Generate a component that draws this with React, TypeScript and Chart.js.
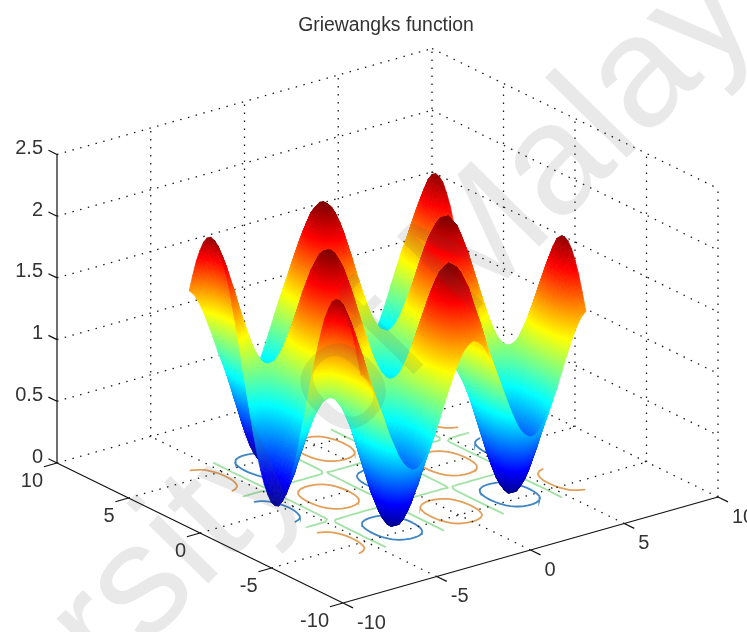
import React, { useEffect, useRef } from "react";
import { Chart, registerables } from "chart.js";

Chart.register(...registerables);

const TITLE = "Griewangks function";
const WATERMARK = "University of Malaya";

const xTicks = [-10, -5, 0, 5, 10];
const yTicks = [-10, -5, 0, 5, 10];
const zTicks = [0, 0.5, 1, 1.5, 2, 2.5];
const zTickLabels = ["0", "0.5", "1", "1.5", "2", "2.5"];
const contourLevels = [0.5, 1, 1.5];
const contourColors = ["#3f86c4", "#a2e2a6", "#e3a05a"];
const gridCoords = [
  -6, -5.75, -5.5, -5.25, -5, -4.75, -4.5, -4.25, -4, -3.75, -3.5, -3.25, -3, -2.75, -2.5, -2.25, -2, -1.75, -1.5, -1.25, -1, -0.75, -0.5, -0.25,
  0, 0.25, 0.5, 0.75, 1, 1.25, 1.5, 1.75, 2, 2.25, 2.5, 2.75, 3, 3.25, 3.5, 3.75, 4, 4.25, 4.5, 4.75, 5, 5.25, 5.5, 5.75, 6,
];

// surface heights, one quadrant (|y| rows by |x| columns, 0 to 6 in steps of 0.25); the surface is symmetric
const zQuadrant = [
  [0.0, 0.03, 0.12, 0.27, 0.46, 0.68, 0.93, 1.18, 1.42, 1.63, 1.8, 1.93, 1.99, 2.0, 1.94, 1.82, 1.66, 1.45, 1.22, 0.97, 0.72, 0.49, 0.3, 0.15, 0.05],
  [0.02, 0.05, 0.14, 0.28, 0.47, 0.69, 0.93, 1.18, 1.41, 1.62, 1.79, 1.91, 1.98, 1.98, 1.93, 1.81, 1.65, 1.44, 1.21, 0.97, 0.73, 0.5, 0.31, 0.16, 0.06],
  [0.06, 0.09, 0.18, 0.31, 0.49, 0.7, 0.93, 1.17, 1.39, 1.59, 1.75, 1.87, 1.93, 1.94, 1.88, 1.77, 1.62, 1.42, 1.2, 0.97, 0.74, 0.53, 0.34, 0.2, 0.11],
  [0.14, 0.16, 0.24, 0.37, 0.53, 0.73, 0.94, 1.15, 1.36, 1.54, 1.69, 1.8, 1.86, 1.86, 1.81, 1.71, 1.57, 1.39, 1.19, 0.97, 0.76, 0.57, 0.4, 0.27, 0.18],
  [0.24, 0.26, 0.33, 0.44, 0.59, 0.76, 0.95, 1.14, 1.32, 1.48, 1.61, 1.71, 1.76, 1.76, 1.72, 1.63, 1.5, 1.34, 1.17, 0.98, 0.79, 0.62, 0.47, 0.35, 0.28],
  [0.37, 0.39, 0.44, 0.54, 0.66, 0.8, 0.96, 1.11, 1.27, 1.4, 1.51, 1.59, 1.63, 1.63, 1.6, 1.52, 1.42, 1.29, 1.14, 0.98, 0.83, 0.68, 0.56, 0.46, 0.4],
  [0.51, 0.53, 0.57, 0.64, 0.74, 0.85, 0.97, 1.09, 1.2, 1.31, 1.39, 1.45, 1.49, 1.49, 1.46, 1.41, 1.32, 1.22, 1.11, 0.99, 0.87, 0.76, 0.66, 0.59, 0.54],
  [0.67, 0.68, 0.71, 0.76, 0.82, 0.9, 0.98, 1.06, 1.14, 1.21, 1.26, 1.3, 1.33, 1.33, 1.31, 1.27, 1.22, 1.15, 1.07, 0.99, 0.91, 0.84, 0.78, 0.73, 0.7],
  [0.84, 0.85, 0.86, 0.89, 0.92, 0.95, 0.99, 1.03, 1.07, 1.1, 1.13, 1.15, 1.16, 1.16, 1.15, 1.13, 1.11, 1.08, 1.04, 1.0, 0.96, 0.93, 0.9, 0.88, 0.86],
  [1.02, 1.02, 1.02, 1.02, 1.01, 1.01, 1.0, 1.0, 0.99, 0.99, 0.99, 0.98, 0.98, 0.98, 0.98, 0.99, 0.99, 1.0, 1.0, 1.01, 1.01, 1.02, 1.02, 1.03, 1.03],
  [1.2, 1.19, 1.17, 1.14, 1.11, 1.06, 1.02, 0.97, 0.92, 0.88, 0.85, 0.82, 0.81, 0.81, 0.82, 0.84, 0.88, 0.92, 0.97, 1.01, 1.06, 1.11, 1.15, 1.18, 1.2],
  [1.37, 1.36, 1.32, 1.27, 1.2, 1.12, 1.03, 0.94, 0.85, 0.77, 0.71, 0.67, 0.64, 0.64, 0.66, 0.71, 0.77, 0.84, 0.93, 1.02, 1.11, 1.2, 1.27, 1.32, 1.36],
  [1.53, 1.51, 1.46, 1.39, 1.29, 1.17, 1.04, 0.91, 0.79, 0.68, 0.59, 0.52, 0.49, 0.49, 0.52, 0.58, 0.67, 0.78, 0.9, 1.03, 1.16, 1.28, 1.38, 1.46, 1.51],
  [1.67, 1.65, 1.59, 1.49, 1.36, 1.21, 1.05, 0.89, 0.73, 0.59, 0.47, 0.39, 0.35, 0.35, 0.39, 0.46, 0.57, 0.71, 0.87, 1.03, 1.2, 1.35, 1.48, 1.58, 1.65],
  [1.79, 1.76, 1.69, 1.58, 1.43, 1.25, 1.06, 0.86, 0.68, 0.51, 0.38, 0.28, 0.23, 0.23, 0.27, 0.36, 0.49, 0.66, 0.84, 1.04, 1.23, 1.41, 1.57, 1.68, 1.77],
  [1.89, 1.86, 1.78, 1.65, 1.48, 1.28, 1.07, 0.85, 0.64, 0.45, 0.3, 0.19, 0.13, 0.13, 0.18, 0.28, 0.43, 0.61, 0.82, 1.04, 1.26, 1.46, 1.63, 1.77, 1.86],
  [1.96, 1.93, 1.84, 1.7, 1.52, 1.31, 1.07, 0.84, 0.61, 0.41, 0.24, 0.13, 0.07, 0.07, 0.12, 0.23, 0.39, 0.59, 0.81, 1.05, 1.28, 1.5, 1.68, 1.83, 1.93],
  [2.0, 1.96, 1.87, 1.73, 1.54, 1.32, 1.08, 0.83, 0.59, 0.38, 0.21, 0.09, 0.03, 0.02, 0.08, 0.19, 0.36, 0.57, 0.8, 1.05, 1.29, 1.51, 1.71, 1.86, 1.96],
  [2.0, 1.97, 1.88, 1.74, 1.55, 1.32, 1.08, 0.83, 0.59, 0.38, 0.21, 0.09, 0.02, 0.02, 0.07, 0.19, 0.36, 0.56, 0.8, 1.04, 1.29, 1.52, 1.72, 1.87, 1.97],
  [1.98, 1.95, 1.86, 1.72, 1.53, 1.31, 1.08, 0.83, 0.6, 0.39, 0.23, 0.11, 0.04, 0.04, 0.1, 0.21, 0.37, 0.57, 0.8, 1.04, 1.28, 1.51, 1.7, 1.85, 1.95],
  [1.93, 1.9, 1.82, 1.68, 1.51, 1.3, 1.07, 0.84, 0.62, 0.43, 0.27, 0.15, 0.09, 0.09, 0.14, 0.25, 0.4, 0.6, 0.82, 1.04, 1.27, 1.48, 1.67, 1.8, 1.9],
  [1.85, 1.82, 1.74, 1.62, 1.46, 1.27, 1.07, 0.86, 0.66, 0.48, 0.34, 0.23, 0.18, 0.17, 0.22, 0.32, 0.46, 0.64, 0.83, 1.04, 1.25, 1.44, 1.6, 1.73, 1.82],
  [1.74, 1.72, 1.65, 1.55, 1.41, 1.24, 1.06, 0.88, 0.7, 0.55, 0.42, 0.33, 0.28, 0.28, 0.32, 0.41, 0.53, 0.68, 0.85, 1.04, 1.22, 1.39, 1.54, 1.64, 1.72],
  [1.61, 1.59, 1.54, 1.45, 1.33, 1.2, 1.05, 0.9, 0.76, 0.63, 0.53, 0.45, 0.41, 0.41, 0.45, 0.52, 0.62, 0.74, 0.88, 1.03, 1.18, 1.32, 1.44, 1.53, 1.59],
  [1.47, 1.45, 1.41, 1.34, 1.25, 1.15, 1.04, 0.93, 0.82, 0.72, 0.64, 0.59, 0.56, 0.56, 0.59, 0.64, 0.71, 0.81, 0.91, 1.03, 1.14, 1.25, 1.34, 1.41, 1.45],
];

const W = 747;
const H = 632;
const N = gridCoords.length;
const MID = (N - 1) / 2;

const heightAt = (i: number, j: number) => zQuadrant[Math.abs(j - MID)][Math.abs(i - MID)];

// orthographic view of the box: front corner, per-unit directions
const project = (x: number, y: number, z: number) => ({
  x: 343 + (x + 10) * 18.75 - (y + 10) * 14.3,
  y: 603 - (x + 10) * 5.3 - (y + 10) * 7 - z * 123.4,
});

const JET: [number, number[]][] = [
  [0, [0, 0, 128]],
  [0.125, [0, 0, 255]],
  [0.375, [0, 255, 255]],
  [0.625, [255, 255, 0]],
  [0.875, [255, 0, 0]],
  [1, [128, 0, 0]],
];
const C_MAX = 2.0;

const jet = (z: number) => {
  const t = Math.min(1, Math.max(0, z / C_MAX));
  for (let k = 1; k < JET.length; k++) {
    if (t <= JET[k][0]) {
      const [t0, c0] = JET[k - 1];
      const [t1, c1] = JET[k];
      const f = (t - t0) / (t1 - t0);
      const c = c0.map((v, n) => Math.round(v + (c1[n] - v) * f));
      return `rgb(${c[0]},${c[1]},${c[2]})`;
    }
  }
  return "rgb(128,0,0)";
};

const shade = (ctx: any) => {
  const ds = ctx.dataset;
  if (ds.paint) return ds.paint;
  const { chart } = ctx;
  const sx = chart.scales.x;
  const sy = chart.scales.y;
  if (!sx || !sy) return "rgba(0,0,0,0)";
  const p = ds.data.slice(0, 3).map((d: any) => ({ x: sx.getPixelForValue(d.x), y: sy.getPixelForValue(d.y) }));
  if (p.some((q: any) => !Number.isFinite(q.x) || !Number.isFinite(q.y)) || chart.chartArea == null) return "rgba(0,0,0,0)";
  const zs: number[] = ds.heights;
  const e1x = p[1].x - p[0].x;
  const e1y = p[1].y - p[0].y;
  const e2x = p[2].x - p[0].x;
  const e2y = p[2].y - p[0].y;
  const d1 = zs[1] - zs[0];
  const d2 = zs[2] - zs[0];
  const det = e1x * e2y - e1y * e2x;
  const zLow = Math.min(...zs);
  const zHigh = Math.max(...zs);
  if (Math.abs(det) < 0.05 || zHigh - zLow < 1e-4) {
    ds.paint = jet((zLow + zHigh) / 2);
    return ds.paint;
  }
  const gx = (d1 * e2y - d2 * e1y) / det;
  const gy = (d2 * e1x - d1 * e2x) / det;
  const g2 = gx * gx + gy * gy;
  const low = p[zs.indexOf(zLow)];
  const dz = zHigh - zLow;
  const grad = chart.ctx.createLinearGradient(low.x, low.y, low.x + (gx / g2) * dz, low.y + (gy / g2) * dz);
  grad.addColorStop(0, jet(zLow));
  for (const [t] of JET) {
    const zk = t * C_MAX;
    if (zk > zLow && zk < zHigh) grad.addColorStop((zk - zLow) / dz, jet(zk));
  }
  grad.addColorStop(1, jet(zHigh));
  ds.paint = grad;
  return grad;
};

const surfaceDatasets = () => {
  const cells: { key: number; i: number; j: number }[] = [];
  for (let j = 0; j < N - 1; j++) for (let i = 0; i < N - 1; i++) cells.push({ key: i + j, i, j });
  cells.sort((a, b) => a.key - b.key);
  const out: any[] = [];
  const tri = (v: number[][]) => {
    const pts = v.map(([i, j]) => project(gridCoords[i], gridCoords[j], heightAt(i, j)));
    out.push({
      data: [...pts, pts[0]],
      heights: v.map(([i, j]) => heightAt(i, j)),
      showLine: true,
      fill: "shape",
      tension: 0,
      pointRadius: 0,
      borderWidth: 0.8,
      borderColor: shade,
      backgroundColor: shade,
      clip: false,
    });
  };
  for (const { i, j } of cells) {
    tri([[i, j], [i + 1, j], [i, j + 1]]);
    tri([[i + 1, j + 1], [i + 1, j], [i, j + 1]]);
  }
  return out;
};

const GAP = { x: NaN, y: NaN };

const polyline = (segments: { x: number; y: number }[][], style: any) => ({
  data: segments.flatMap((s) => [...s, GAP]),
  showLine: true,
  fill: false,
  tension: 0,
  pointRadius: 0,
  clip: false,
  ...style,
});

const contourSegments = (level: number) => {
  const segs: { x: number; y: number }[][] = [];
  for (let j = 0; j < N - 1; j++) {
    for (let i = 0; i < N - 1; i++) {
      const corners = [[i, j], [i + 1, j], [i + 1, j + 1], [i, j + 1]];
      const hits: { x: number; y: number }[] = [];
      for (let k = 0; k < 4; k++) {
        const [ai, aj] = corners[k];
        const [bi, bj] = corners[(k + 1) % 4];
        const za = heightAt(ai, aj);
        const zb = heightAt(bi, bj);
        if ((za < level) !== (zb < level)) {
          const f = (level - za) / (zb - za);
          hits.push(project(
            gridCoords[ai] + (gridCoords[bi] - gridCoords[ai]) * f,
            gridCoords[aj] + (gridCoords[bj] - gridCoords[aj]) * f,
            0,
          ));
        }
      }
      for (let k = 0; k + 1 < hits.length; k += 2) segs.push([hits[k], hits[k + 1]]);
    }
  }
  return segs;
};

const dotted = { borderColor: "#1c1c1c", borderWidth: 1.3, borderDash: [1.5, 6.5] };
const solid = { borderColor: "#111", borderWidth: 1.2, borderDash: [] };

const floorDots = () => {
  const s: any[] = [];
  for (const x of xTicks.slice(1)) s.push([project(x, -10, 0), project(x, 10, 0)]);
  for (const y of yTicks.slice(1)) s.push([project(-10, y, 0), project(10, y, 0)]);
  return s;
};

const wallDots = () => {
  const s: any[] = [];
  for (const z of zTicks.slice(1)) {
    s.push([project(-10, 10, z), project(10, 10, z)]);
    s.push([project(10, 10, z), project(10, -10, z)]);
  }
  const top = zTicks[zTicks.length - 1];
  for (const x of xTicks.slice(1)) s.push([project(x, 10, 0), project(x, 10, top)]);
  for (const y of yTicks.slice(0, -1)) s.push([project(10, y, 0), project(10, y, top)]);
  return s;
};

const axisLines = () => {
  const top = zTicks[zTicks.length - 1];
  const s: any[] = [
    [project(-10, 10, 0), project(-10, 10, top)],
    [project(-10, -10, 0), project(-10, 10, 0)],
    [project(-10, -10, 0), project(10, -10, 0)],
  ];
  for (const z of zTicks) s.push([project(-10, 10, z), project(-10, 10.6, z)]);
  for (const y of yTicks) s.push([project(-10, y, 0), project(-10.7, y, 0)]);
  for (const x of xTicks) s.push([project(x, -10, 0), project(x, -10.7, 0)]);
  return s;
};

const textPlugin = {
  id: "boxText",
  afterDatasetsDraw(chart: any) {
    const { ctx, scales } = chart;
    const px = (p: { x: number; y: number }) => ({ x: scales.x.getPixelForValue(p.x), y: scales.y.getPixelForValue(p.y) });
    ctx.save();
    ctx.fillStyle = "#333";
    ctx.textBaseline = "middle";
    ctx.font = '20px "Liberation Sans"';
    ctx.textAlign = "right";
    zTicks.forEach((z, n) => {
      ctx.fillText(zTickLabels[n], 43, px(project(-10, 10, z)).y - 6);
    });
    yTicks.forEach((y) => {
      const p = px(project(-10, y, 0));
      ctx.fillText(String(y), p.x - 14, p.y + 18);
    });
    ctx.textAlign = "left";
    xTicks.forEach((x) => {
      const p = px(project(x, -10, 0));
      ctx.fillText(String(x), p.x + 14, p.y + 20);
    });
    ctx.textAlign = "center";
    ctx.font = '19.4px "Liberation Sans"';
    ctx.fillText(TITLE, 386, 26);
    ctx.restore();
  },
  afterDraw(chart: any) {
    const { ctx } = chart;
    ctx.save();
    ctx.translate(-174.7, 973);
    ctx.rotate((-45.5 * Math.PI) / 180);
    ctx.font = '158px "Liberation Sans"';
    ctx.textAlign = "left";
    ctx.textBaseline = "alphabetic";
    ctx.fillStyle = "rgba(70,70,70,0.12)";
    ctx.fillText(WATERMARK, 0, 0);
    ctx.restore();
  },
};

export default function App() {
  const ref = useRef<HTMLCanvasElement | null>(null);
  useEffect(() => {
    document.body.style.margin = "0";
    document.body.style.background = "#fff";
    const datasets: any[] = [
      ...surfaceDatasets(),
      polyline(floorDots(), dotted),
      ...contourLevels.map((lv, n) =>
        polyline(contourSegments(lv), { borderColor: contourColors[n], borderWidth: 1.8, borderCapStyle: "round" }),
      ),
      polyline(wallDots(), dotted),
      polyline(axisLines(), solid),
    ];
    const chart = new Chart(ref.current as HTMLCanvasElement, {
      type: "scatter",
      data: { datasets },
      options: {
        animation: false,
        responsive: false,
        events: [],
        layout: { padding: 0 },
        scales: {
          x: { type: "linear", min: 0, max: W, display: false },
          y: { type: "linear", min: 0, max: H, reverse: true, display: false },
        },
        plugins: { legend: { display: false }, tooltip: { enabled: false }, title: { display: false } },
      },
      plugins: [textPlugin],
    } as any);
    return () => chart.destroy();
  }, []);
  return <canvas ref={ref} width={W} height={H} style={{ display: "block", width: W, height: H }} />;
}
